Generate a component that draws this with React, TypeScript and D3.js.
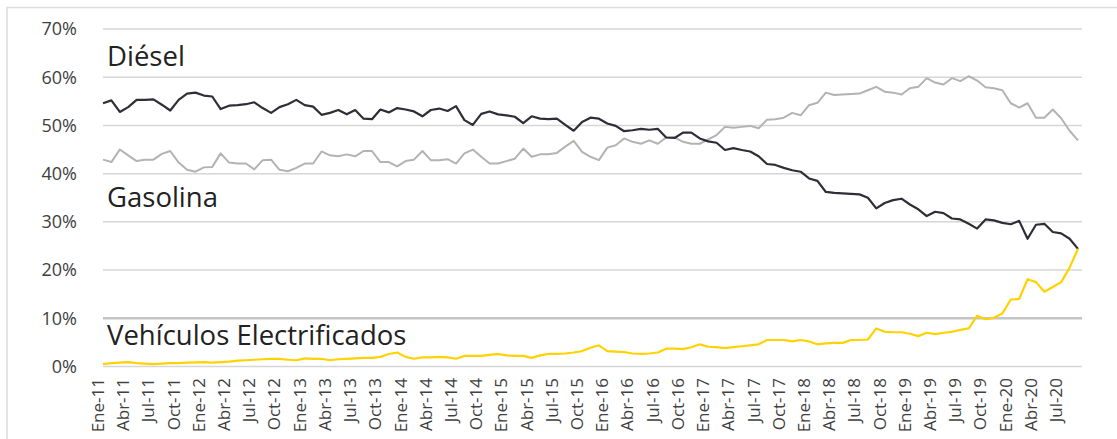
import React from "react";
import * as d3 from "d3";

const yTicks = [0, 10, 20, 30, 40, 50, 60, 70];

const xTickLabels = [
  "Ene-11", "Abr-11", "Jul-11", "Oct-11",
  "Ene-12", "Abr-12", "Jul-12", "Oct-12",
  "Ene-13", "Abr-13", "Jul-13", "Oct-13",
  "Ene-14", "Abr-14", "Jul-14", "Oct-14",
  "Ene-15", "Abr-15", "Jul-15", "Oct-15",
  "Ene-16", "Abr-16", "Jul-16", "Oct-16",
  "Ene-17", "Abr-17", "Jul-17", "Oct-17",
  "Ene-18", "Abr-18", "Jul-18", "Oct-18",
  "Ene-19", "Abr-19", "Jul-19", "Oct-19",
  "Ene-20", "Abr-20", "Jul-20",
];

const diesel = [
  54.6, 55.2, 52.8, 53.8, 55.3, 55.3, 55.4, 54.3, 53.1, 55.3,
  56.6, 56.8, 56.2, 56.0, 53.4, 54.1, 54.2, 54.4, 54.8, 53.6,
  52.6, 53.8, 54.4, 55.3, 54.2, 53.9, 52.2, 52.6, 53.2, 52.3,
  53.2, 51.4, 51.3, 53.3, 52.7, 53.6, 53.3, 52.9, 51.9, 53.2,
  53.5, 53.0, 54.0, 51.1, 50.1, 52.4, 52.9, 52.3, 52.1, 51.8,
  50.5, 51.9, 51.4, 51.3, 51.4, 50.1, 48.9, 50.7, 51.6, 51.4,
  50.4, 49.9, 48.8, 49.0, 49.3, 49.1, 49.3, 47.5, 47.4, 48.5,
  48.5, 47.3, 46.7, 46.4, 44.9, 45.3, 44.9, 44.6, 43.6, 42.0,
  41.8, 41.2, 40.7, 40.4, 39.0, 38.5, 36.2, 36.0, 35.9, 35.8,
  35.7, 35.0, 32.8, 33.9, 34.5, 34.8, 33.6, 32.6, 31.2, 32.1,
  31.8, 30.7, 30.5, 29.6, 28.6, 30.5, 30.3, 29.8, 29.5, 30.2,
  26.5, 29.4, 29.6, 27.9, 27.6, 26.5, 24.4,
];

const gasolina = [
  42.9, 42.4, 45.0, 43.8, 42.6, 42.9, 42.9, 44.1, 44.7, 42.3,
  40.8, 40.4, 41.3, 41.4, 44.2, 42.3, 42.1, 42.1, 40.9, 42.8,
  42.9, 40.8, 40.5, 41.2, 42.1, 42.1, 44.6, 43.8, 43.6, 44.0,
  43.6, 44.7, 44.7, 42.4, 42.4, 41.5, 42.6, 42.9, 44.7, 42.8,
  42.8, 43.0, 42.1, 44.2, 45.0, 43.5, 42.1, 42.1, 42.6, 43.1,
  45.2, 43.5, 44.0, 44.0, 44.3, 45.6, 46.8, 44.5, 43.5, 42.8,
  45.4, 45.9, 47.3, 46.6, 46.2, 46.9, 46.2, 47.5, 47.5, 46.6,
  46.2, 46.2, 47.1, 48.0, 49.7, 49.5, 49.7, 49.9, 49.4, 51.2,
  51.3, 51.6, 52.6, 52.1, 54.2, 54.7, 56.8, 56.3, 56.4, 56.5,
  56.6, 57.3, 58.0, 57.0, 56.8, 56.4, 57.7, 58.0, 59.8, 58.9,
  58.5, 59.8, 59.2, 60.2, 59.3, 57.9, 57.7, 57.3, 54.6, 53.7,
  54.6, 51.6, 51.6, 53.3, 51.5, 48.9, 46.9,
];

const electrificados = [
  0.5, 0.7, 0.8, 0.9, 0.7, 0.6, 0.5, 0.6, 0.7, 0.7,
  0.8, 0.85, 0.9, 0.8, 0.9, 1.0, 1.2, 1.3, 1.4, 1.5,
  1.6, 1.6, 1.4, 1.3, 1.7, 1.6, 1.6, 1.3, 1.5, 1.6,
  1.7, 1.8, 1.8, 2.0, 2.6, 2.9, 2.0, 1.6, 1.9, 1.9,
  2.0, 1.9, 1.6, 2.2, 2.2, 2.2, 2.4, 2.6, 2.3, 2.2,
  2.2, 1.8, 2.3, 2.6, 2.6, 2.7, 2.9, 3.2, 3.9, 4.4,
  3.2, 3.1, 3.0, 2.7, 2.6, 2.7, 2.9, 3.7, 3.7, 3.6,
  4.0, 4.6, 4.1, 4.0, 3.8, 4.0, 4.2, 4.4, 4.6, 5.5,
  5.5, 5.5, 5.2, 5.5, 5.2, 4.6, 4.8, 4.9, 4.9, 5.5,
  5.5, 5.6, 7.9, 7.2, 7.1, 7.1, 6.8, 6.3, 7.0, 6.7,
  7.0, 7.2, 7.6, 7.9, 10.5, 9.8, 10.1, 11.0, 13.9, 14.0,
  18.1, 17.5, 15.5, 16.5, 17.5, 20.5, 24.4,
];

const seriesLabels = ["Diésel", "Gasolina", "Vehículos Electrificados"];
const seriesLabelValues = [62.3, 33.0, 4.5];

export default function App() {
  const W = 1117;
  const H = 439;
  const n = diesel.length;
  const x = d3.scaleLinear().domain([0, n - 1]).range([103, 1078]);
  const y = d3.scaleLinear().domain([0, 70]).range([366.5, 29]);
  const line = d3
    .line<number>()
    .x((_, i) => x(i))
    .y((d) => y(d));

  const font = "'Open Sans', 'Noto Sans', sans-serif";

  return (
    <div style={{ position: "absolute", left: 0, top: 0 }}>
      <svg width={W} height={H} style={{ display: "block", background: "#fff" }}>
        <rect x={7} y={7.5} width={1200} height={500} fill="none" stroke="#dcdcdc" strokeWidth={1.5} />
        {yTicks.map((t) => (
          <line
            key={"g" + t}
            x1={103}
            x2={1082}
            y1={y(t)}
            y2={y(t)}
            stroke={t === 10 ? "#c4c4c4" : "#d6d6d6"}
            strokeWidth={t === 10 ? 2.5 : 1.5}
          />
        ))}
        {yTicks.map((t) => (
          <text
            key={"t" + t}
            x={77}
            y={y(t)}
            dy="0.35em"
            textAnchor="end"
            fontFamily={font}
            fontSize={18}
            fill="#404040"
          >
            {t + "%"}
          </text>
        ))}
        {xTickLabels.map((lab, k) => {
          const px = x(k * 3) - 5;
          return (
            <text
              key={"x" + k}
              transform={`translate(${px},378) rotate(-90)`}
              dy="0.35em"
              textAnchor="end"
              fontFamily={font}
              fontSize={17}
              fill="#404040"
            >
              {lab}
            </text>
          );
        })}
        <path d={line(gasolina) || ""} fill="none" stroke="#b3b3b3" strokeWidth={2} strokeLinejoin="round" />
        <path d={line(diesel) || ""} fill="none" stroke="#2e2e38" strokeWidth={2.2} strokeLinejoin="round" />
        <path d={line(electrificados) || ""} fill="none" stroke="#ffd200" strokeWidth={2.2} strokeLinejoin="round" />
        {seriesLabels.map((s, i) => (
          <text
            key={s}
            x={107}
            y={y(seriesLabelValues[i])}
            fontFamily={font}
            fontSize={27.5}
            fill="#222"
          >
            {s}
          </text>
        ))}
      </svg>
    </div>
  );
}
